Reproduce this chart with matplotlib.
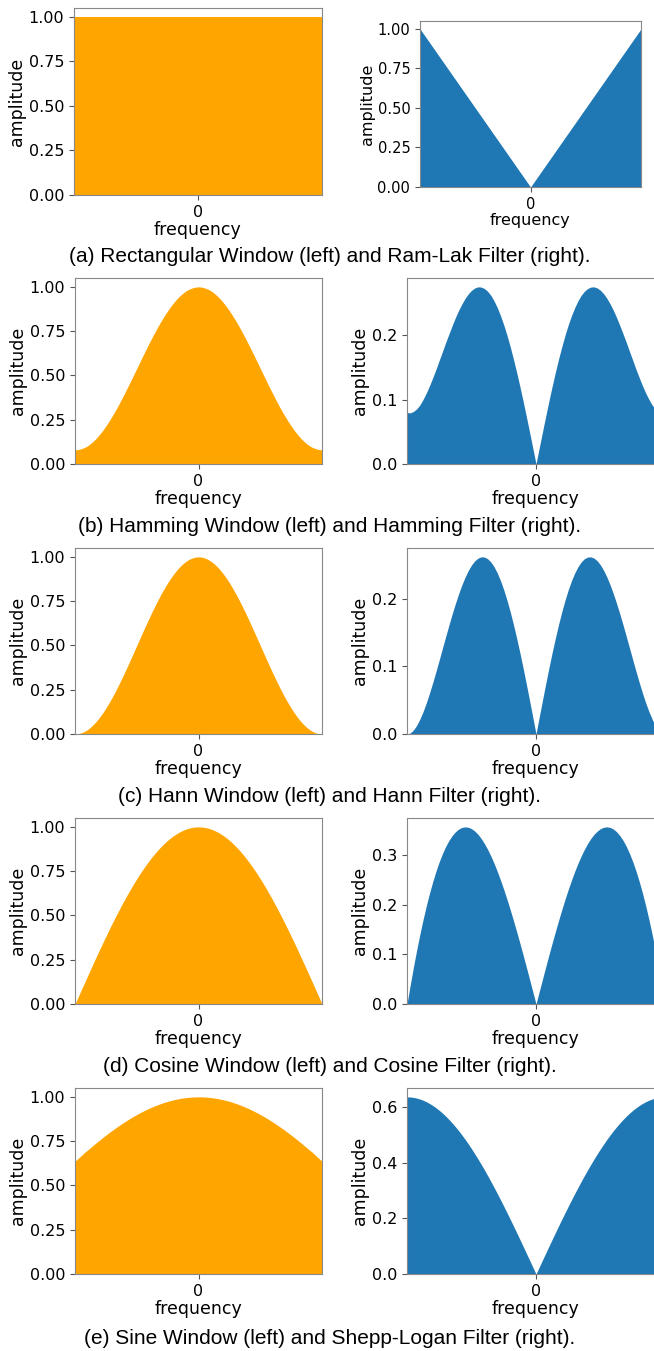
import numpy as np
import matplotlib
matplotlib.use('Agg')
import matplotlib.pyplot as plt

freq_half = [0.0, 0.025, 0.05, 0.075, 0.1, 0.125, 0.15, 0.175, 0.2, 0.225, 0.25,
             0.275, 0.3, 0.325, 0.35, 0.375, 0.4, 0.425, 0.45, 0.475, 0.5,
             0.525, 0.55, 0.575, 0.6, 0.625, 0.65, 0.675, 0.7, 0.725, 0.75,
             0.775, 0.8, 0.825, 0.85, 0.875, 0.9, 0.925, 0.95, 0.975, 1.0]

rect_win = [1.0] * 41
ramlak = list(freq_half)

hamming_win = [1.0, .9986, .994, .9873, .978, .965, .950, .9322, .912, .8898, .865,
               .8387, .810, .7804, .749, .716, .682, .6474, .612, .5761, .540,
               .5039, .468, .4326, .398, .364, .331, .2996, .270, .2413, .215,
               .1902, .168, .1478, .130, .115, .102, .0927, .086, .0814, .080]
hamming_filt = [0.0, .025, .0497, .074, .0978, .1206, .1425, .1631, .1824, .2002, .2163,
                .2306, .243, .2536, .2622, .2685, .2728, .2751, .2754, .2736, .27,
                .2645, .2574, .2487, .2388, .2275, .2152, .2022, .189, .1749, .1613,
                .1474, .1344, .1219, .1105, .1006, .0918, .0857, .0817, .0794, .08]

hann_win = [1.0, .9985, .9938, .9862, .9755, .962, .9455, .9263, .9045, .8802, .8536,
            .8247, .7939, .7613, .727, .6914, .6545, .6167, .5782, .5393, .5,
            .4607, .4218, .3833, .3455, .3087, .273, .2388, .2061, .1753, .1464,
            .1198, .0955, .0737, .0545, .0381, .0245, .0138, .0062, .0015, 0.0]
hann_filt = [0.0, .025, .0497, .074, .0976, .1203, .1418, .1621, .1809, .198, .2134,
             .2268, .2382, .2474, .2545, .2593, .2618, .2621, .2602, .2562, .25,
             .2419, .232, .2204, .2073, .1929, .1775, .1612, .1443, .1271, .1098,
             .0928, .0764, .0608, .0463, .0333, .0221, .0128, .0059, .0015, 0.0]

cosine_win = [1.0, .9992, .9969, .9931, .9877, .9808, .9724, .9625, .9511, .9382, .9239,
              .9082, .891, .8725, .8526, .8315, .809, .7853, .7604, .7343, .7071,
              .6788, .6494, .6191, .5878, .5556, .5225, .4886, .454, .4187, .3827,
              .3461, .309, .2714, .2334, .1951, .1564, .1175, .0785, .0393, 0.0]
cosine_filt = [0.0, .025, .0498, .0745, .0988, .1226, .1459, .1684, .1902, .2111, .231,
               .2497, .2673, .2836, .2984, .3118, .3236, .3338, .3422, .3488, .3536,
               .3564, .3572, .356, .3527, .3472, .3396, .3298, .3178, .3035, .287,
               .2682, .2472, .2239, .1984, .1707, .1408, .1087, .0746, .0383, 0.0]

sine_win = [1.0, .9997, .999, .9977, .9959, .9936, .9908, .9874, .9836, .9793, .9745,
            .9692, .9634, .9571, .9504, .9431, .9355, .9273, .9187, .9097, .9003,
            .8904, .8802, .8694, .8584, .8469, .835, .8229, .8103, .7974, .7842,
            .7707, .7569, .7427, .7283, .7136, .6987, .6849, .668, .6524, .6366]
shepp_filt = [0.0, .025, .05, .0748, .0996, .1242, .1486, .1728, .1967, .2203, .2436,
              .2665, .289, .311, .3326, .3537, .3742, .3941, .4134, .4321, .4502,
              .4675, .4841, .4999, .515, .5293, .5428, .5554, .5672, .5782, .5882,
              .5973, .6055, .6127, .619, .6244, .6288, .6322, .6346, .6361, .6366]

captions = ['(a) Rectangular Window (left) and Ram-Lak Filter (right).',
            '(b) Hamming Window (left) and Hamming Filter (right).',
            '(c) Hann Window (left) and Hann Filter (right).',
            '(d) Cosine Window (left) and Cosine Filter (right).',
            '(e) Sine Window (left) and Shepp-Logan Filter (right).']

rows = [(rect_win, ramlak), (hamming_win, hamming_filt), (hann_win, hann_filt),
        (cosine_win, cosine_filt), (sine_win, shepp_filt)]

right_ticks = [[0.0, 0.25, 0.5, 0.75, 1.0], [0.0, 0.1, 0.2], [0.0, 0.1, 0.2],
               [0.0, 0.1, 0.2, 0.3], [0.0, 0.2, 0.4, 0.6]]

# axes boxes in pixels: left, right, top, bottom
left_boxes = [(74, 322, 8, 195), (75, 322, 278, 464), (75, 322, 548, 734),
              (75, 322, 818, 1004), (75, 322, 1088, 1274)]
right_boxes = [(420, 641, 21, 187), (407, 665, 278, 464), (407, 665, 548, 734),
               (407, 665, 818, 1004), (407, 665, 1088, 1274)]
caption_y = [256, 526, 797, 1066, 1339]

W, H = 654, 1351
fig = plt.figure(figsize=(W / 100, H / 100), dpi=100)


def mirror(half):
    half = np.array(half)
    return np.concatenate([half[::-1], half[1:]])


freq = np.concatenate([-np.array(freq_half)[::-1], np.array(freq_half)[1:]])


def make_axes(box, y, color, yticks, fmt, small=False):
    l, r, t, b = box
    ax = fig.add_axes([l / W, 1 - b / H, (r - l) / W, (b - t) / H])
    ax.fill_between(freq, 0, mirror(y), color=color, linewidth=0)
    ax.set_xlim(freq[0], freq[-1])
    ax.set_ylim(0, 1.05 * max(y))
    ax.set_xticks([0])
    ax.set_yticks(yticks)
    ax.set_yticklabels([fmt % v for v in yticks])
    fs_tick = 10.5 if small else 11.5
    fs_lab = 11.5 if small else 12.5
    ax.tick_params(labelsize=fs_tick, color='#555555')
    ax.set_xlabel('frequency', fontsize=fs_lab, labelpad=1)
    ax.set_ylabel('amplitude', fontsize=fs_lab, labelpad=2)
    for s in ax.spines.values():
        s.set_color('#888888')
    return ax


for i, (win, filt) in enumerate(rows):
    make_axes(left_boxes[i], win, '#ffa500', [0.0, 0.25, 0.5, 0.75, 1.0], '%.2f')
    fmt = '%.2f' if i == 0 else '%.1f'
    make_axes(right_boxes[i], filt, '#1f77b4', right_ticks[i], fmt, small=(i == 0))
    fig.text(330 / W, 1 - caption_y[i] / H, captions[i], ha='center', va='center',
             fontsize=15, family='Liberation Sans')

fig.savefig('out.png', dpi=100)
